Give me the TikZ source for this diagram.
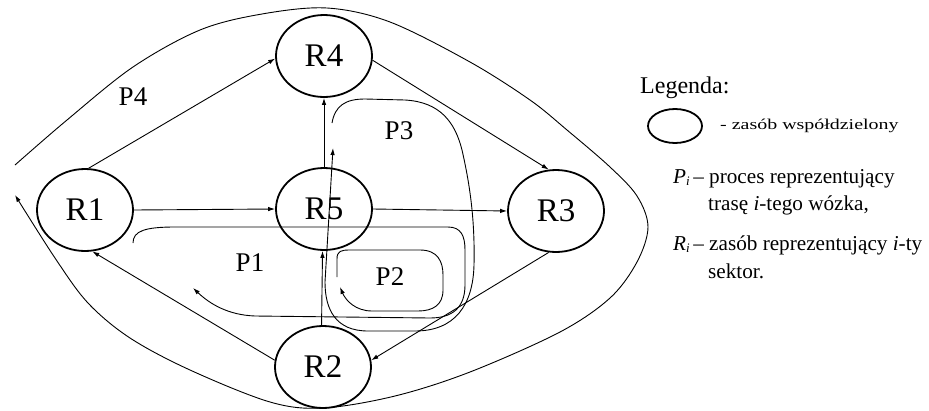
\documentclass[tikz,border=0pt]{standalone}
\usepackage{fontspec}
\setmainfont{Liberation Serif}
\usetikzlibrary{shapes.geometric,arrows.meta}
\tikzset{
  res/.style={draw, ellipse, line width=1.8pt, minimum width=96pt, minimum height=82pt, inner sep=0pt, font=\fontsize{33}{36}\selectfont},
  conn/.style={-{Latex[length=7pt,width=4.5pt]}, line width=0.9pt},
  proc/.style={-{Latex[length=7pt,width=4.5pt]}, line width=0.9pt},
  plabel/.style={font=\fontsize{27}{30}\selectfont, inner sep=0pt},
  legtext/.style={anchor=base west, inner sep=0pt, font=\fontsize{21.2}{24}\selectfont}
}
\newcommand{\subi}{\raisebox{-0.3ex}{\fontsize{13}{13}\selectfont\textit{i}}}
\begin{document}
\begin{tikzpicture}[x=1pt,y=-1pt]
\useasboundingbox (0,0) rectangle (929,410);
% resources
\node[res] (R4) at (324,56) {R4};
\node[res] (R1) at (85,210) {R1};
\node[res] (R5) at (324,209) {R5};
\node[res] (R3) at (556,211) {R3};
\node[res] (R2) at (323,367) {R2};
% connectors
\draw[conn] (R1.85) -- (R4.183);
\draw[conn] (R1.east) -- (R5.west);
\draw[conn] (R5.north) -- (R4.south);
\draw[conn] (R5.east) -- (R3.west);
\draw[conn] (R4.-5) -- (R3.100);
\draw[conn] (R3.-100) -- (R2.8);
\draw[conn] (R2.92) -- (R5.268);
\draw[conn] (R2.172) -- (R1.-80);
% process P4 (outer loop)
\draw[proc] plot[smooth, tension=0.55] coordinates {(15,165) (67,120) (133,67) (200,30) (262,14) (327,8) (390,22) (470,62) (530,100) (567,130) (610,167) (637,196) (648,227) (637,262) (610,298) (560,332) (470,372) (395,396) (323,408) (270,402) (190,370) (130,338) (88,303) (55,258) (15,195)};
% process P1
\coordinate (p1s) at (133,243);
\coordinate (p1e) at (193,288);
\draw[proc] (p1s) .. controls (133,231) and (145,227) .. (175,227) -- (448,227) .. controls (461,227) and (465,236) .. (465,250) -- (465,285) .. controls (465,308) and (452,318) .. (430,318) -- (255,316) .. controls (228,315) and (210,304) .. (p1e);
% process P2
\coordinate (p2s) at (337,277);
\coordinate (p2e) at (340,287);
\draw[proc] (p2s) -- (337,259) .. controls (337,251) and (341,250) .. (350,250) -- (420,250) .. controls (438,250) and (443,262) .. (443,275) -- (443,290) .. controls (443,305) and (433,311) .. (418,311) -- (372,311) .. controls (356,311) and (346,301) .. (p2e);
% process P3
\coordinate (p3s) at (332,123);
\coordinate (p3e) at (333,148);
\draw[proc] (p3s) .. controls (335,106) and (345,99) .. (365,99) -- (405,100) .. controls (440,102) and (455,122) .. (462,150) .. controls (470,185) and (475,220) .. (474,265) .. controls (473,305) and (455,331) .. (415,331) -- (368,331) .. controls (336,331) and (325,310) .. (325,282) -- (p3e);
% labels
\node[plabel] (lP4) at (133,97) {P4};
\node[plabel] (lP3) at (399,131) {P3};
\node[plabel] (lP1) at (250,263) {P1};
\node[plabel] (lP2) at (390,277) {P2};
% legend
\node[anchor=base west, inner sep=0pt, font=\fontsize{24}{28}\selectfont] (leg) at (640,93) {Legenda:};
\node[draw, ellipse, line width=1.8pt, minimum width=54pt, minimum height=34pt, inner sep=0pt] (legell) at (675,126) {};
\node[anchor=base west, inner sep=0pt] (legzas) at (720,129) {\scalebox{1.33}[1]{\fontsize{15}{16}\selectfont - zasób współdzielony}};
\node[legtext] (l1) at (673,183) {\textit{P}\subi\,– proces reprezentujący};
\node[legtext] (l2) at (708,210) {trasę \textit{i}-tego wózka,};
\node[legtext] (l3) at (673,250) {\textit{R}\subi\,– zasób reprezentujący \textit{i}-ty};
\node[legtext] (l4) at (708,278) {sektor.};
\end{tikzpicture}
\end{document}
